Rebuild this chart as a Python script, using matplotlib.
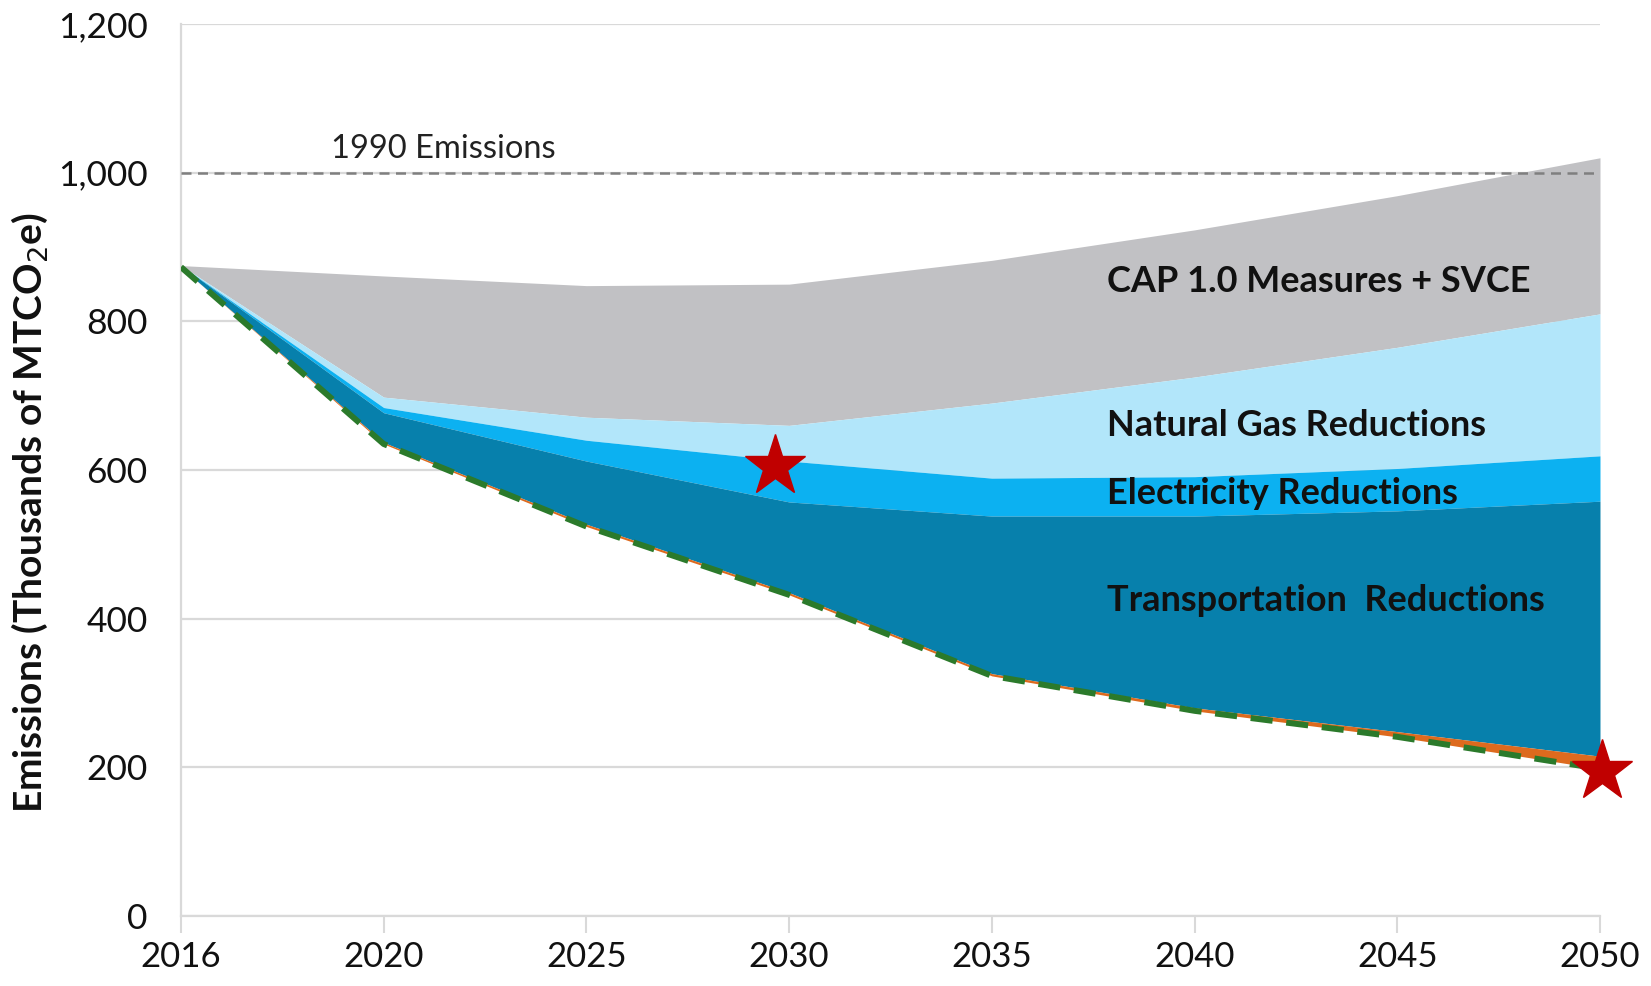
"""
Emissions wedge chart: BAU forecast vs. reductions by sector, 2016-2050.
"""

import matplotlib
matplotlib.use("Agg")
import matplotlib.pyplot as plt
import numpy as np

# --- data (thousands of MTCO2e) ---
years = ["2016", "2020", "2025", "2030", "2035", "2040", "2045", "2050"]
bau_total      = [875, 861, 848, 850, 882, 923, 969, 1020]   # top of grey wedge
after_cap      = [875, 698, 671, 660, 690, 725, 765, 810]    # below CAP 1.0 + SVCE
after_gas      = [875, 684, 640, 612, 589, 591, 602, 619]    # below natural gas
after_elec     = [875, 677, 612, 557, 538, 538, 545, 558]    # below electricity
after_transport = [873, 637, 527, 435, 326, 280, 248, 215]   # below transportation
target_path    = [873, 635, 524, 432, 323, 276, 241, 198]    # green dashed path

emissions_1990 = 1000
target_idx = [3, 7]
target_vals = [605, 195]

layer_labels = ["CAP 1.0 Measures + SVCE", "Natural Gas Reductions",
                "Electricity Reductions", "Transportation  Reductions"]
layer_colors = ["#C1C1C4", "#B2E6FA", "#0CB1F1", "#0780AC"]

plt.rcParams["font.family"] = ["Lato", "DejaVu Sans"]

fig = plt.figure(figsize=(16.51, 9.86), dpi=100)
ax = fig.add_axes([0.1096, 0.071, 0.8595, 0.9047])

x = np.arange(len(years))
bounds = [bau_total, after_cap, after_gas, after_elec, after_transport]
for i, col in enumerate(layer_colors):
    ax.fill_between(x, bounds[i + 1], bounds[i], color=col, lw=0, zorder=2)
ax.fill_between(x, target_path, after_transport, color="#DD6A1E", lw=0, zorder=2)

# target path
ax.plot(x, target_path, color="#2B7A2B", lw=4.3, dashes=(3.7, 2.3),
        zorder=4, solid_capstyle="butt", dash_capstyle="butt")

# 1990 level
ax.axhline(emissions_1990, color="#7F7F7F", lw=1.8, dashes=(4, 2.6), zorder=3)
ax.text(0.74, 1012, "1990 Emissions", fontsize=23.5, color="#222222",
        va="bottom", ha="left")

# targets
tx = np.array(target_idx, dtype=float) + np.array([-0.07, 0.01])
ax.plot(tx, target_vals, ls="none", marker="*", ms=46, color="#C00000",
        mec="#C00000", zorder=6, clip_on=False)

# wedge labels
label_y = [853, 660, 569, 425]
for txt, yv in zip(layer_labels, label_y):
    ax.text(4.57, yv, txt, fontsize=26, fontweight="bold", color="#111111",
            va="center", ha="left", zorder=5)

ax.set_xlim(0, len(years) - 1)
ax.set_ylim(0, 1200)
ax.set_xticks(x)
ax.set_xticklabels(years)
ax.set_yticks(np.arange(0, 1201, 200))
ax.set_yticklabels([f"{v:,}" for v in range(0, 1201, 200)])
ax.tick_params(axis="x", labelsize=25, length=12, width=1.5, color="#D9D9D9",
               pad=6, labelcolor="#111111")
ax.tick_params(axis="y", labelsize=25.5, length=0, pad=24, labelcolor="#111111")

ax.grid(axis="y", color="#D9D9D9", lw=1.6, zorder=0)
ax.set_axisbelow(True)
for side in ["top", "right"]:
    ax.spines[side].set_visible(False)
for side in ["left", "bottom"]:
    ax.spines[side].set_color("#D9D9D9")
    ax.spines[side].set_linewidth(1.6)

ax.set_ylabel("Emissions (Thousands of MTCO$_2$e)", fontsize=28,
              fontweight="bold", color="#111111")
ax.yaxis.set_label_coords(-0.092, 0.452)

fig.savefig("out.png", dpi=100)
plt.close(fig)
